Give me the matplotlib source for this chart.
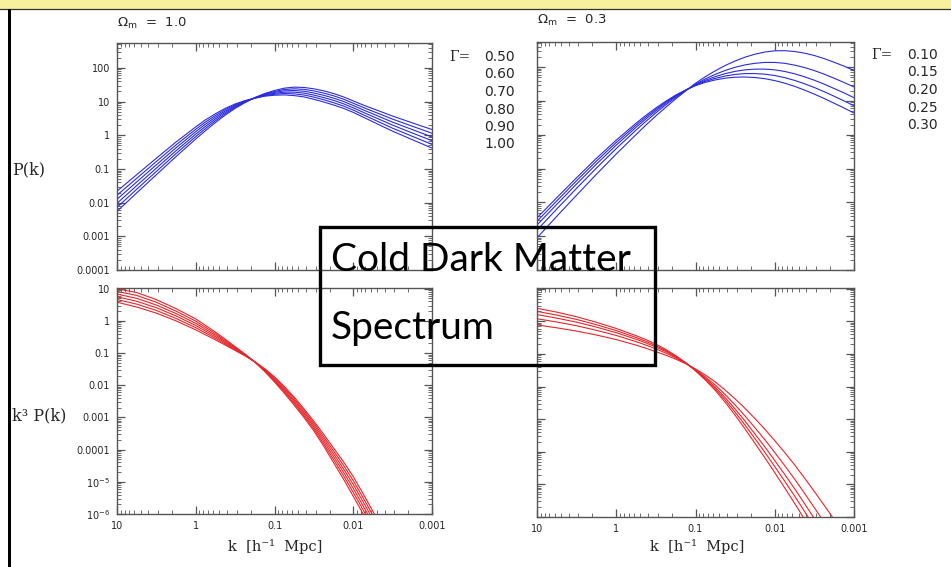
import numpy as np
import matplotlib
matplotlib.use("Agg")
import matplotlib.pyplot as plt
from matplotlib.patches import Rectangle
from matplotlib.lines import Line2D
from matplotlib.ticker import FixedLocator, LogLocator, NullFormatter

# ===============================
# Data
# ===============================
gamma_om10 = ["0.50", "0.60", "0.70", "0.80", "0.90", "1.00"]
gamma_om03 = ["0.10", "0.15", "0.20", "0.25", "0.30"]

# P(k), Omega_m = 1.0, one row per Gamma (0.50 ... 1.00)
k_pk_om10 = [10, 5.62, 3.16, 1.78, 1.0, 0.750, 0.562, 0.422, 0.316, 0.237, 0.178, 0.133, 0.1,
             0.0750, 0.0562, 0.0422, 0.0316, 0.0237, 0.0178, 0.0133, 0.01, 0.00750, 0.00562,
             0.00316, 0.00178, 0.001]
pk_om10 = [
    [0.00550, 0.0195, 0.0676, 0.234, 0.776, 1.38, 2.40, 3.98, 6.31, 9.33, 13.2, 17.4, 21.4,
     25.1, 26.9, 26.3, 24.0, 20.9, 17.4, 13.8, 10.5, 7.94, 6.17, 3.72, 2.34, 1.48],
    [0.00724, 0.0250, 0.0847, 0.286, 0.916, 1.60, 2.70, 4.37, 6.70, 9.59, 13.1, 16.7, 20.0,
     22.9, 24.0, 23.1, 20.8, 17.9, 14.9, 11.8, 8.95, 6.73, 5.15, 3.02, 1.86, 1.15],
    [0.00955, 0.0321, 0.106, 0.348, 1.08, 1.85, 3.05, 4.79, 7.11, 9.86, 12.9, 16.1, 18.8,
     20.9, 21.4, 20.3, 18.0, 15.4, 12.7, 10.1, 7.66, 5.70, 4.31, 2.45, 1.48, 0.891],
    [0.0126, 0.0411, 0.133, 0.425, 1.28, 2.15, 3.44, 5.25, 7.55, 10.1, 12.8, 15.6, 17.6,
     19.1, 19.1, 17.9, 15.6, 13.2, 10.9, 8.63, 6.55, 4.83, 3.60, 2.00, 1.17, 0.692],
    [0.0166, 0.0527, 0.167, 0.518, 1.51, 2.49, 3.87, 5.75, 8.02, 10.4, 12.7, 15.0, 16.5,
     17.4, 17.0, 15.7, 13.6, 11.4, 9.29, 7.38, 5.60, 4.09, 3.01, 1.62, 0.933, 0.537],
    [0.0219, 0.0676, 0.209, 0.631, 1.78, 2.88, 4.37, 6.31, 8.51, 10.7, 12.6, 14.5, 15.5,
     15.8, 15.1, 13.8, 11.7, 9.77, 7.94, 6.31, 4.79, 3.47, 2.51, 1.32, 0.741, 0.417],
]

# P(k), Omega_m = 0.3, one row per Gamma (0.10 ... 0.30)
k_pk_om03 = [10, 5.62, 3.16, 1.78, 1.0, 0.562, 0.422, 0.316, 0.237, 0.178, 0.133, 0.1, 0.0750,
             0.0562, 0.0422, 0.0316, 0.0237, 0.0178, 0.0133, 0.01, 0.00750, 0.00562, 0.00422,
             0.00316, 0.00237, 0.00178, 0.00133, 0.001]
pk_om03 = [
    [0.000891, 0.00389, 0.0164, 0.0676, 0.269, 1.01, 1.93, 3.59, 6.46, 11.4, 19.7, 33.1, 52.0,
     77.6, 111, 151, 196, 240, 278, 302, 305, 288, 258, 219, 177, 138, 106, 79.4],
    [0.00151, 0.00638, 0.0261, 0.103, 0.389, 1.37, 2.49, 4.44, 7.60, 12.6, 20.2, 31.1, 44.8,
     61.0, 79.4, 98.4, 116, 129, 137, 137, 129, 114, 96.8, 78.5, 61.4, 46.6, 34.8, 25.7],
    [0.00214, 0.00875, 0.0351, 0.135, 0.492, 1.66, 2.94, 5.07, 8.43, 13.5, 20.6, 29.9, 40.6,
     52.1, 64.0, 74.6, 82.6, 86.7, 86.9, 82.6, 74.1, 63.2, 51.6, 40.7, 31.1, 23.2, 17.1, 12.4],
    [0.00275, 0.0111, 0.0439, 0.166, 0.589, 1.92, 3.34, 5.62, 9.12, 14.1, 20.8, 29.0, 37.8,
     46.3, 54.3, 60.5, 64.0, 64.1, 61.5, 56.2, 48.6, 40.3, 32.1, 24.8, 18.6, 13.7, 9.93, 7.14],
    [0.00347, 0.0138, 0.0537, 0.200, 0.692, 2.19, 3.74, 6.17, 9.79, 14.8, 21.0, 28.2, 35.3,
     41.7, 46.9, 50.1, 50.8, 49.0, 45.2, 39.8, 33.4, 26.9, 20.9, 15.8, 11.7, 8.51, 6.12, 4.37],
]

# k^3 P(k), Omega_m = 1.0
k_k3pk_om10 = [10, 5.62, 3.16, 1.78, 1.0, 0.562, 0.422, 0.316, 0.237, 0.178, 0.133, 0.1, 0.0750,
               0.0562, 0.0422, 0.0316, 0.0237, 0.0178, 0.0133, 0.01, 0.00750, 0.00562, 0.00422,
               0.00316]
k3pk_om10 = [
    [3.80, 2.69, 1.74, 1.00, 0.525, 0.257, 0.177, 0.120, 0.0820, 0.0537, 0.0325, 0.0182, 0.00916,
     0.00427, 0.00185, 7.59e-4, 2.98e-4, 1.12e-4, 4.18e-5, 1.45e-5, 4.29e-6, 1.20e-6, 3.47e-7, 1.0e-7],
    [4.61, 3.31, 2.11, 1.19, 0.614, 0.287, 0.192, 0.127, 0.0841, 0.0535, 0.0313, 0.0169, 0.00832,
     0.00380, 0.00163, 6.61e-4, 2.51e-4, 9.12e-5, 3.26e-5, 1.09e-5, 3.21e-6, 8.99e-7, 2.56e-7, 7.24e-8],
    [5.60, 4.07, 2.56, 1.42, 0.718, 0.321, 0.209, 0.134, 0.0865, 0.0532, 0.0300, 0.0157, 0.00755,
     0.00339, 0.00144, 5.75e-4, 2.12e-4, 7.41e-5, 2.54e-5, 8.24e-6, 2.41e-6, 6.73e-7, 1.89e-7, 5.25e-8],
    [6.79, 5.01, 3.10, 1.69, 0.839, 0.358, 0.227, 0.142, 0.0887, 0.0530, 0.0288, 0.0146, 0.00684,
     0.00302, 0.00127, 5.01e-4, 1.79e-4, 6.03e-5, 1.99e-5, 6.22e-6, 1.80e-6, 5.04e-7, 1.40e-7, 3.80e-8],
    [8.24, 6.17, 3.77, 2.01, 0.982, 0.400, 0.247, 0.150, 0.0912, 0.0527, 0.0277, 0.0136, 0.00621,
     0.00269, 0.00112, 4.37e-4, 1.51e-4, 4.90e-5, 1.55e-5, 4.70e-6, 1.35e-6, 3.77e-7, 1.03e-7, 2.75e-8],
    [10.0, 7.59, 4.57, 2.40, 1.15, 0.447, 0.269, 0.158, 0.0935, 0.0525, 0.0266, 0.0126, 0.00564,
     0.00240, 0.000991, 3.80e-4, 1.28e-4, 3.98e-5, 1.21e-5, 3.55e-6, 1.01e-6, 2.82e-7, 7.60e-8, 2.00e-8],
]

# k^3 P(k), Omega_m = 0.3
k_k3pk_om03 = [10, 5.62, 3.16, 1.78, 1.0, 0.562, 0.422, 0.316, 0.237, 0.178, 0.133, 0.1, 0.0750,
               0.0562, 0.0422, 0.0316, 0.0237, 0.0178, 0.0133, 0.01, 0.00750, 0.00562, 0.00422,
               0.00316, 0.00237, 0.00178]
k3pk_om03 = [
    [0.776, 0.631, 0.501, 0.380, 0.275, 0.186, 0.149, 0.117, 0.0914, 0.0692, 0.0502, 0.0347, 0.0226,
     0.0138, 0.00780, 0.00417, 0.00214, 0.00105, 4.89e-4, 2.19e-4, 9.53e-5, 3.98e-5, 1.58e-5, 6.03e-6,
     2.26e-6, 8.32e-7],
    [1.20, 0.951, 0.730, 0.530, 0.368, 0.238, 0.187, 0.143, 0.106, 0.0760, 0.0515, 0.0330, 0.0198,
     0.0111, 0.00566, 0.00272, 0.00125, 5.48e-4, 2.32e-4, 9.48e-5, 3.78e-5, 1.46e-5, 5.38e-6, 1.92e-6,
     6.81e-7, 2.35e-7],
    [1.61, 1.25, 0.940, 0.664, 0.448, 0.282, 0.218, 0.163, 0.118, 0.0809, 0.0525, 0.0318, 0.0181,
     0.00953, 0.00456, 0.00204, 8.69e-4, 3.54e-4, 1.40e-4, 5.40e-5, 2.03e-5, 7.38e-6, 2.60e-6, 8.89e-7,
     3.02e-7, 1.0e-7],
    [2.01, 1.55, 1.14, 0.787, 0.519, 0.320, 0.244, 0.180, 0.127, 0.0849, 0.0531, 0.0310, 0.0169,
     0.00849, 0.00386, 0.00164, 6.59e-4, 2.54e-4, 9.57e-5, 3.52e-5, 1.26e-5, 4.41e-6, 1.50e-6, 4.95e-7,
     1.63e-7, 5.26e-8],
    [2.51, 1.91, 1.38, 0.933, 0.603, 0.363, 0.274, 0.200, 0.137, 0.0891, 0.0538, 0.0302, 0.0158,
     0.00759, 0.00328, 0.00132, 5.00e-4, 1.82e-4, 6.53e-5, 2.29e-5, 7.85e-6, 2.63e-6, 8.61e-7, 2.75e-7,
     8.79e-8, 2.75e-8],
]

k_ticks = [10, 1, 0.1, 0.01, 0.001]
k_tick_labels = ["10", "1", "0.1", "0.01", "0.001"]
pk_ticks = [1e-4, 1e-3, 1e-2, 0.1, 1, 10, 100]
pk_tick_labels = ["0.0001", "0.001", "0.01", "0.1", "1", "10", "100"]
k3pk_ticks = [1e-6, 1e-5, 1e-4, 1e-3, 1e-2, 0.1, 1, 10]
k3pk_tick_labels = ["10$^{-6}$", "10$^{-5}$", "0.0001", "0.001", "0.01", "0.1", "1", "10"]

# ===============================
# Figure layout (pixel based, 951 x 567)
# ===============================
W, H = 951, 567
plt.rcParams["font.family"] = ["DejaVu Sans"]
plt.rcParams["mathtext.fontset"] = "dejavusans"
fig = plt.figure(figsize=(W / 100, H / 100), dpi=100)
fig.patch.set_facecolor("white")


def box(x0, y0, x1, y1):
    return [x0 / W, 1 - y1 / H, (x1 - x0) / W, (y1 - y0) / H]


def fx(x):
    return x / W


def fy(y):
    return 1 - y / H


TEXT = "#262626"
BLUE = "#2b2bdc"
RED = "#e5262b"
SERIF = ["DejaVu Serif"]


def setup(ax, ylim, yticks, ylabels, show_x, show_y):
    ax.set_xscale("log")
    ax.set_yscale("log")
    ax.set_xlim(10, 0.001)
    ax.set_ylim(*ylim)
    ax.xaxis.set_major_locator(FixedLocator(k_ticks))
    ax.xaxis.set_minor_locator(LogLocator(base=10, subs=np.arange(2, 10), numticks=50))
    ax.xaxis.set_minor_formatter(NullFormatter())
    ax.yaxis.set_major_locator(FixedLocator(yticks))
    ax.yaxis.set_minor_locator(LogLocator(base=10, subs=np.arange(2, 10), numticks=50))
    ax.yaxis.set_minor_formatter(NullFormatter())
    if show_x:
        ax.set_xticklabels(k_tick_labels)
    if show_y:
        ax.set_yticklabels(ylabels)
    ax.tick_params(which="both", direction="in", top=True, right=True,
                   color="#555555", labelcolor=TEXT, labelsize=7,
                   labelbottom=show_x, labelleft=show_y)
    ax.tick_params(which="major", length=6, width=0.9, pad=5)
    ax.tick_params(which="minor", length=3, width=0.6)
    for s in ax.spines.values():
        s.set_color("#555555")
        s.set_linewidth(1.0)


ax_tl = fig.add_axes(box(117, 43, 432, 270))
ax_tr = fig.add_axes(box(537, 42, 854, 270))
ax_bl = fig.add_axes(box(117, 288, 432, 514))
ax_br = fig.add_axes(box(537, 288, 854, 517))

for vals in pk_om10:
    ax_tl.plot(k_pk_om10, vals, color=BLUE, lw=0.8)
for vals in pk_om03:
    ax_tr.plot(k_pk_om03, vals, color=BLUE, lw=0.8)
for vals in k3pk_om10:
    ax_bl.plot(k_k3pk_om10, vals, color=RED, lw=0.8)
for vals in k3pk_om03:
    ax_br.plot(k_k3pk_om03, vals, color=RED, lw=0.8)

setup(ax_tl, (1e-4, 550), pk_ticks, pk_tick_labels, False, True)
setup(ax_tr, (1e-4, 550), pk_ticks, pk_tick_labels, False, False)
setup(ax_bl, (1e-6, 10.5), k3pk_ticks, k3pk_tick_labels, True, True)
setup(ax_br, (1e-6, 10.5), k3pk_ticks, k3pk_tick_labels, True, False)

# ===============================
# Labels and annotations
# ===============================
fig.text(fx(117), fy(23), r"$\Omega_\mathrm{m}$  =  1.0", fontsize=9.5, color=TEXT, va="center")
fig.text(fx(537), fy(20), r"$\Omega_\mathrm{m}$  =  0.3", fontsize=9.5, color=TEXT, va="center")

fig.text(fx(12), fy(170), "P(k)", fontsize=11.5, family=SERIF, color=TEXT, va="center")
fig.text(fx(12), fy(416), "k³ P(k)", fontsize=11.5, family=SERIF, color=TEXT, va="center")

fig.text(fx(275), fy(546), "k  [h⁻¹  Mpc]", fontsize=10.5, family=SERIF, color=TEXT,
         ha="center", va="center")
fig.text(fx(697), fy(547), "k  [h⁻¹  Mpc]", fontsize=10.5, family=SERIF, color=TEXT,
         ha="center", va="center")

fig.text(fx(449), fy(57), "Γ=", fontsize=10, family=SERIF, color=TEXT, va="center")
for i, g in enumerate(gamma_om10):
    fig.text(fx(484), fy(57 + 17.5 * i), g, fontsize=10, color=TEXT, va="center")

fig.text(fx(871), fy(55), "Γ=", fontsize=10, family=SERIF, color=TEXT, va="center")
for i, g in enumerate(gamma_om03):
    fig.text(fx(907), fy(55 + 17.5 * i), g, fontsize=10, color=TEXT, va="center")

# title box drawn over the panels (outline only)
fig.add_artist(Rectangle((fx(320), fy(365)), (655 - 320) / W, (365 - 227) / H,
                         transform=fig.transFigure, fill=False,
                         edgecolor="black", linewidth=2.4, zorder=10))
fig.text(fx(331), fy(271), "Cold Dark Matter", fontsize=28,
         family=["Lato", "DejaVu Sans"], color="black", va="baseline", zorder=11)
fig.text(fx(331), fy(339), "Spectrum", fontsize=28,
         family=["Lato", "DejaVu Sans"], color="black", va="baseline", zorder=11)

# slide decoration: yellow header band and left rule
fig.add_artist(Rectangle((0, fy(9)), 1, 9 / H, transform=fig.transFigure,
                         facecolor="#f7f09c", edgecolor="none", zorder=0))
fig.add_artist(Line2D([0, 1], [fy(9), fy(9)], transform=fig.transFigure,
                      color="#333333", linewidth=0.9))
fig.add_artist(Rectangle((fx(7.5), 0), 3 / W, fy(9), transform=fig.transFigure,
                         facecolor="black", edgecolor="none", zorder=5))

fig.savefig("out.png", dpi=100)
